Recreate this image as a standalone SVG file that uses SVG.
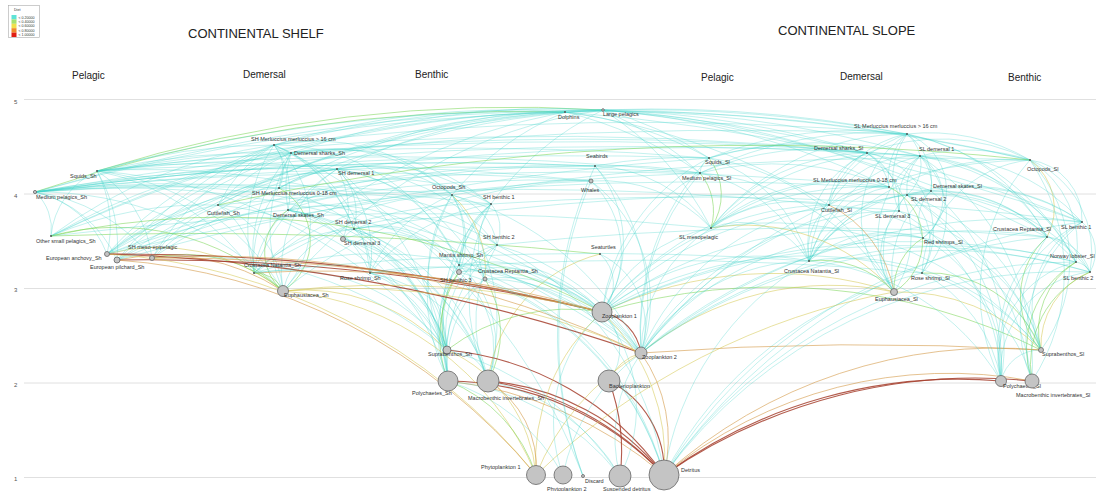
<svg xmlns="http://www.w3.org/2000/svg" width="1096" height="491" viewBox="0 0 1096 491">
<style>
text{font-family:"Liberation Sans",Arial,sans-serif}
.grid{stroke:#d8d8d8;stroke-width:.8}
.ax{font-size:6px;fill:#555}
.h1{font-size:13px;fill:#222}
.h2{font-size:10px;fill:#222}
.t{font-size:5.5px;fill:#333}
.lg{font-size:3.6px;fill:#333}
#edges path{fill:none;stroke-width:.75}
.c{stroke:#3fd3c8;stroke-opacity:.42}
.g{stroke:#7dd65a;stroke-opacity:.75}
.y{stroke:#d6c957;stroke-opacity:.75}
.o{stroke:#d39a48;stroke-opacity:.8}
#edges .r{stroke:#a63f2e;stroke-opacity:.85;stroke-width:1.1}
.d{fill:#555}
.b{fill:#c4c4c4;stroke:#666;stroke-width:.8}
</style>
<rect width="1096" height="491" fill="#fff"/>
<g id="legend">
<rect x="8.5" y="5.5" width="31" height="32" fill="#fff" stroke="#aaa" stroke-width=".6"/>
<text class="lg" x="14" y="11">Diet</text>
<rect x="11.5" y="15" width="5" height="4.4" fill="#5fe3d6"/>
<rect x="11.5" y="19.4" width="5" height="4.4" fill="#a6e26e"/>
<rect x="11.5" y="23.8" width="5" height="4.4" fill="#f1e04b"/>
<rect x="11.5" y="28.2" width="5" height="4.4" fill="#f08a2a"/>
<rect x="11.5" y="32.6" width="5" height="4.4" fill="#e01e12"/>
<text class="lg" x="18.5" y="18.5">&lt; 0.20000</text>
<text class="lg" x="18.5" y="22.9">&lt; 0.40000</text>
<text class="lg" x="18.5" y="27.3">&lt; 0.60000</text>
<text class="lg" x="18.5" y="31.7">&lt; 0.80000</text>
<text class="lg" x="18.5" y="36.1">&lt; 1.00000</text>
</g>
<g id="headers">
<text class="h1" x="188" y="38">CONTINENTAL SHELF</text>
<text class="h1" x="778" y="35">CONTINENTAL SLOPE</text>
<text class="h2" x="72" y="79">Pelagic</text>
<text class="h2" x="243" y="78">Demersal</text>
<text class="h2" x="415" y="78">Benthic</text>
<text class="h2" x="701" y="81">Pelagic</text>
<text class="h2" x="840" y="80">Demersal</text>
<text class="h2" x="1008" y="81">Benthic</text>
</g>
<g id="axis">
<line class="grid" x1="24" y1="99.5" x2="1096" y2="99.5"/>
<line class="grid" x1="24" y1="194" x2="1096" y2="194"/>
<line class="grid" x1="24" y1="288.5" x2="1096" y2="288.5"/>
<line class="grid" x1="24" y1="383" x2="1096" y2="383"/>
<line class="grid" x1="24" y1="477.5" x2="1096" y2="477.5"/>
<text class="ax" x="14" y="104">5</text>
<text class="ax" x="14" y="198">4</text>
<text class="ax" x="14" y="292">3</text>
<text class="ax" x="14" y="387">2</text>
<text class="ax" x="14" y="481">1</text>
</g>
<g id="edges">
<path class="c" d="M35 192 A2000 2000 0 0 1 603 110"/>
<path class="g" d="M35 192 A1500 1500 0 0 1 565 112"/>
<path class="c" d="M35 192 A2200 2200 0 0 1 565 112"/>
<path class="g" d="M97 171 A1400 1400 0 0 1 603 110"/>
<path class="c" d="M97 171 A1600 1600 0 0 1 565 112"/>
<path class="c" d="M51 236 A1200 1200 0 0 1 565 112"/>
<path class="c" d="M51 236 A1300 1300 0 0 1 603 110"/>
<path class="c" d="M107 254 A1100 1100 0 0 1 603 110"/>
<path class="c" d="M117 260 A900 900 0 0 1 565 112"/>
<path class="c" d="M152 258 A900 900 0 0 1 603 110"/>
<path class="c" d="M274 145 A1100 1100 0 0 1 603 110"/>
<path class="c" d="M274 145 A800 800 0 0 1 565 112"/>
<path class="c" d="M291 153 A800 800 0 0 1 603 110"/>
<path class="c" d="M337 169 A600 600 0 0 1 565 112"/>
<path class="c" d="M279 188 A600 600 0 0 1 565 112"/>
<path class="c" d="M218 205 A800 800 0 0 1 603 110"/>
<path class="c" d="M452 195 A300 300 0 0 1 565 112"/>
<path class="c" d="M491 204 A300 300 0 0 1 603 110"/>
<path class="c" d="M283 291 A500 500 0 0 1 603 110"/>
<path class="c" d="M254 273 A600 600 0 0 1 565 112"/>
<path class="c" d="M565 112 A400 400 0 0 1 709 158"/>
<path class="c" d="M603 110 A350 350 0 0 1 709 158"/>
<path class="c" d="M603 110 A350 350 0 0 1 700 173"/>
<path class="c" d="M565 112 A400 400 0 0 1 700 173"/>
<path class="c" d="M603 110 A300 300 0 0 1 711 228"/>
<path class="c" d="M565 112 A1300 1300 0 0 1 907 134"/>
<path class="c" d="M603 110 A1500 1500 0 0 1 907 134"/>
<path class="c" d="M603 110 A1000 1000 0 0 1 867 153"/>
<path class="c" d="M565 112 A1100 1100 0 0 1 920 156"/>
<path class="c" d="M603 110 A2000 2000 0 0 1 1030 160"/>
<path class="c" d="M565 112 A1800 1800 0 0 1 1030 160"/>
<path class="c" d="M603 110 A800 800 0 0 1 889 187"/>
<path class="c" d="M565 112 A700 700 0 0 1 829 205"/>
<path class="c" d="M603 110 A900 900 0 0 1 931 191"/>
<path class="c" d="M603 110 A1600 1600 0 0 1 1082 222"/>
<path class="c" d="M603 110 A1200 1200 0 0 1 1047 237"/>
<path class="c" d="M565 112 A2000 2000 0 0 1 1082 222"/>
<path class="c" d="M97 171 A3000 3000 0 0 1 709 158"/>
<path class="c" d="M97 171 A3000 3000 0 0 1 700 173"/>
<path class="c" d="M97 171 A1000 1000 0 0 1 337 169"/>
<path class="c" d="M97 171 A600 600 0 0 1 274 145"/>
<path class="c" d="M97 171 A800 800 0 0 1 291 153"/>
<path class="c" d="M35 192 A1200 1200 0 0 1 279 188"/>
<path class="c" d="M35 192 A1500 1500 0 0 1 337 169"/>
<path class="c" d="M35 192 A2500 2500 0 0 1 452 195"/>
<path class="c" d="M35 192 A2500 2500 0 0 1 491 204"/>
<path class="c" d="M35 192 A4000 4000 0 0 1 700 173"/>
<path class="c" d="M35 192 A3000 3000 0 0 1 595 166"/>
<path class="c" d="M35 192 A3000 3000 0 0 1 591 181"/>
<path class="c" d="M51 236 A500 500 0 0 1 274 145"/>
<path class="c" d="M51 236 A80 80 0 0 1 97 171"/>
<path class="c" d="M35 192 A50 50 0 0 1 51 236"/>
<path class="c" d="M51 236 A700 700 0 0 1 291 153"/>
<path class="c" d="M51 236 A400 400 0 0 1 218 205"/>
<path class="g" d="M51 236 A4000 4000 0 0 1 600 254"/>
<path class="c" d="M97 171 A120 120 0 0 1 107 254"/>
<path class="c" d="M35 192 A100 100 0 0 1 107 254"/>
<path class="c" d="M107 254 A400 400 0 0 1 274 145"/>
<path class="c" d="M107 254 A500 500 0 0 1 291 153"/>
<path class="c" d="M107 254 A500 500 0 0 1 337 169"/>
<path class="c" d="M107 254 A250 250 0 0 1 218 205"/>
<path class="c" d="M107 254 A1200 1200 0 0 1 595 166"/>
<path class="c" d="M107 254 A1300 1300 0 0 1 591 181"/>
<path class="c" d="M107 254 A300 300 0 0 1 279 188"/>
<path class="c" d="M97 171 A150 150 0 0 1 117 260"/>
<path class="c" d="M35 192 A120 120 0 0 1 117 260"/>
<path class="c" d="M117 260 A400 400 0 0 1 274 145"/>
<path class="c" d="M117 260 A500 500 0 0 1 291 153"/>
<path class="c" d="M117 260 A1200 1200 0 0 1 595 166"/>
<path class="c" d="M117 260 A400 400 0 0 1 288 210"/>
<path class="c" d="M152 258 A300 300 0 0 1 274 145"/>
<path class="c" d="M97 171 A120 120 0 0 1 152 258"/>
<path class="c" d="M152 258 A350 350 0 0 1 337 169"/>
<path class="c" d="M152 258 A150 150 0 0 1 218 205"/>
<path class="c" d="M35 192 A180 180 0 0 1 152 258"/>
<path class="c" d="M218 205 A150 150 0 0 1 274 145"/>
<path class="c" d="M218 205 A300 300 0 0 1 337 169"/>
<path class="c" d="M218 205 A200 200 0 0 1 291 153"/>
<path class="c" d="M274 145 A40 40 0 0 1 279 188"/>
<path class="c" d="M279 188 A100 100 0 0 1 291 153"/>
<path class="c" d="M279 188 A150 150 0 0 1 337 169"/>
<path class="c" d="M288 210 A120 120 0 0 1 291 153"/>
<path class="c" d="M274 145 A80 80 0 0 1 288 210"/>
<path class="c" d="M337 169 A60 60 0 0 1 354 229"/>
<path class="c" d="M274 145 A150 150 0 0 1 354 229"/>
<path class="c" d="M291 153 A150 150 0 0 1 354 229"/>
<path class="c" d="M337 169 A80 80 0 0 1 343 239"/>
<path class="c" d="M343 239 A30 30 0 0 1 354 229"/>
<path class="c" d="M288 210 A100 100 0 0 1 343 239"/>
<path class="c" d="M254 273 A150 150 0 0 1 274 145"/>
<path class="c" d="M254 273 A120 120 0 0 1 279 188"/>
<path class="c" d="M254 273 A100 100 0 0 1 288 210"/>
<path class="c" d="M254 273 A200 200 0 0 1 337 169"/>
<path class="c" d="M254 273 A150 150 0 0 1 354 229"/>
<path class="c" d="M218 205 A80 80 0 0 1 254 273"/>
<path class="c" d="M97 171 A250 250 0 0 1 254 273"/>
<path class="c" d="M254 273 A150 150 0 0 1 291 153"/>
<path class="c" d="M254 273 A300 300 0 0 1 452 195"/>
<path class="c" d="M254 273 A400 400 0 0 1 491 204"/>
<path class="c" d="M337 169 A120 120 0 0 1 370 273"/>
<path class="c" d="M354 229 A50 50 0 0 1 370 273"/>
<path class="c" d="M274 145 A150 150 0 0 1 370 273"/>
<path class="c" d="M370 273 A150 150 0 0 1 452 195"/>
<path class="c" d="M288 210 A100 100 0 0 1 370 273"/>
<path class="c" d="M370 273 A200 200 0 0 1 491 204"/>
<path class="c" d="M97 171 A250 250 0 0 1 283 291"/>
<path class="c" d="M35 192 A350 350 0 0 1 283 291"/>
<path class="y" d="M107 254 A200 200 0 0 1 283 291"/>
<path class="o" d="M117 260 A220 220 0 0 1 283 291"/>
<path class="g" d="M152 258 A150 150 0 0 1 283 291"/>
<path class="g" d="M51 236 A250 250 0 0 1 283 291"/>
<path class="c" d="M218 205 A100 100 0 0 1 283 291"/>
<path class="g" d="M279 188 A60 60 0 0 1 283 291"/>
<path class="g" d="M283 291 A50 50 0 0 1 288 210"/>
<path class="c" d="M274 145 A100 100 0 0 1 283 291"/>
<path class="c" d="M283 291 A80 80 0 0 1 354 229"/>
<path class="c" d="M283 291 A120 120 0 0 1 337 169"/>
<path class="g" d="M254 273 A30 30 0 0 1 283 291"/>
<path class="c" d="M283 291 A500 500 0 0 1 591 181"/>
<path class="c" d="M283 291 A150 150 0 0 1 291 153"/>
<path class="c" d="M274 145 A200 200 0 0 1 452 195"/>
<path class="c" d="M337 169 A150 150 0 0 1 452 195"/>
<path class="c" d="M291 153 A180 180 0 0 1 452 195"/>
<path class="c" d="M291 153 A250 250 0 0 1 491 204"/>
<path class="c" d="M337 169 A200 200 0 0 1 491 204"/>
<path class="c" d="M288 210 A200 200 0 0 1 491 204"/>
<path class="c" d="M452 195 A60 60 0 0 1 497 245"/>
<path class="c" d="M491 204 A40 40 0 0 1 497 245"/>
<path class="c" d="M354 229 A150 150 0 0 1 497 245"/>
<path class="c" d="M337 169 A200 200 0 0 1 497 245"/>
<path class="c" d="M288 210 A200 200 0 0 1 497 245"/>
<path class="c" d="M452 195 A80 80 0 0 1 459 265"/>
<path class="c" d="M354 229 A100 100 0 0 1 459 265"/>
<path class="c" d="M337 169 A150 150 0 0 1 459 265"/>
<path class="c" d="M459 265 A80 80 0 0 1 491 204"/>
<path class="c" d="M274 145 A200 200 0 0 1 459 265"/>
<path class="c" d="M452 195 A80 80 0 0 1 459 272"/>
<path class="c" d="M459 272 A100 100 0 0 1 491 204"/>
<path class="c" d="M459 272 A60 60 0 0 1 497 245"/>
<path class="c" d="M343 239 A100 100 0 0 1 459 272"/>
<path class="c" d="M354 229 A100 100 0 0 1 459 272"/>
<path class="y" d="M452 195 A100 100 0 0 1 485 279"/>
<path class="c" d="M485 279 A80 80 0 0 1 491 204"/>
<path class="c" d="M337 169 A200 200 0 0 1 485 279"/>
<path class="c" d="M288 210 A200 200 0 0 1 485 279"/>
<path class="g" d="M447 350 A80 80 0 0 1 459 272"/>
<path class="c" d="M447 350 A80 80 0 0 1 459 265"/>
<path class="c" d="M447 350 A150 150 0 0 1 452 195"/>
<path class="c" d="M370 273 A100 100 0 0 1 447 350"/>
<path class="c" d="M254 273 A200 200 0 0 1 447 350"/>
<path class="c" d="M343 239 A120 120 0 0 1 447 350"/>
<path class="c" d="M354 229 A130 130 0 0 1 447 350"/>
<path class="c" d="M288 210 A200 200 0 0 1 447 350"/>
<path class="c" d="M279 188 A250 250 0 0 1 447 350"/>
<path class="c" d="M218 205 A300 300 0 0 1 447 350"/>
<path class="y" d="M283 291 A200 200 0 0 1 447 350"/>
<path class="c" d="M152 258 A400 400 0 0 1 447 350"/>
<path class="c" d="M447 350 A100 100 0 0 1 497 245"/>
<path class="c" d="M447 350 A80 80 0 0 1 485 279"/>
<path class="c" d="M447 350 A150 150 0 0 1 491 204"/>
<path class="c" d="M97 171 A500 500 0 0 1 447 350"/>
<path class="g" d="M448 381 A120 120 0 0 1 459 272"/>
<path class="c" d="M448 381 A150 150 0 0 1 497 245"/>
<path class="c" d="M448 381 A200 200 0 0 1 491 204"/>
<path class="c" d="M448 381 A120 120 0 0 1 485 279"/>
<path class="c" d="M448 381 A120 120 0 0 1 459 265"/>
<path class="c" d="M448 381 A200 200 0 0 1 452 195"/>
<path class="c" d="M343 239 A150 150 0 0 1 448 381"/>
<path class="c" d="M354 229 A200 200 0 0 1 448 381"/>
<path class="c" d="M288 210 A250 250 0 0 1 448 381"/>
<path class="c" d="M370 273 A120 120 0 0 1 448 381"/>
<path class="c" d="M337 169 A300 300 0 0 1 448 381"/>
<path class="g" d="M485 279 A100 100 0 0 1 488 381"/>
<path class="c" d="M488 381 A150 150 0 0 1 497 245"/>
<path class="c" d="M488 381 A200 200 0 0 1 491 204"/>
<path class="c" d="M459 272 A100 100 0 0 1 488 381"/>
<path class="c" d="M459 265 A100 100 0 0 1 488 381"/>
<path class="c" d="M452 195 A200 200 0 0 1 488 381"/>
<path class="c" d="M354 229 A200 200 0 0 1 488 381"/>
<path class="c" d="M343 239 A200 200 0 0 1 488 381"/>
<path class="c" d="M370 273 A150 150 0 0 1 488 381"/>
<path class="c" d="M288 210 A250 250 0 0 1 488 381"/>
<path class="c" d="M447 350 A40 40 0 0 1 488 381"/>
<path class="y" d="M488 381 A150 150 0 0 1 600 254"/>
<path class="r" d="M107 254 A2000 2000 0 0 1 602 312"/>
<path class="r" d="M117 260 A2000 2000 0 0 1 602 312"/>
<path class="o" d="M152 258 A1800 1800 0 0 1 602 312"/>
<path class="r" d="M107 254 A1800 1800 0 0 1 641 353"/>
<path class="o" d="M254 273 A1000 1000 0 0 1 602 312"/>
<path class="y" d="M283 291 A900 900 0 0 1 602 312"/>
<path class="c" d="M600 254 A40 40 0 0 1 602 312"/>
<path class="c" d="M35 192 A900 900 0 0 1 602 312"/>
<path class="c" d="M97 171 A800 800 0 0 1 602 312"/>
<path class="g" d="M51 236 A800 800 0 0 1 602 312"/>
<path class="c" d="M591 181 A100 100 0 0 1 602 312"/>
<path class="c" d="M595 166 A120 120 0 0 1 602 312"/>
<path class="g" d="M447 350 A200 200 0 0 1 602 312"/>
<path class="c" d="M485 279 A150 150 0 0 1 602 312"/>
<path class="c" d="M459 265 A150 150 0 0 1 602 312"/>
<path class="c" d="M459 272 A150 150 0 0 1 602 312"/>
<path class="c" d="M602 312 A150 150 0 0 1 711 228"/>
<path class="c" d="M602 312 A200 200 0 0 1 709 158"/>
<path class="c" d="M602 312 A200 200 0 0 1 700 173"/>
<path class="c" d="M602 312 A250 250 0 0 1 809 261"/>
<path class="y" d="M602 312 A400 400 0 0 1 894 292"/>
<path class="c" d="M602 312 A300 300 0 0 1 829 205"/>
<path class="c" d="M602 312 A350 350 0 0 1 899 211"/>
<path class="c" d="M602 312 A350 350 0 0 1 889 187"/>
<path class="c" d="M602 312 A400 400 0 0 1 922 273"/>
<path class="c" d="M602 312 A400 400 0 0 1 923 238"/>
<path class="g" d="M602 312 A600 600 0 0 1 1041 350"/>
<path class="c" d="M602 312 A700 700 0 0 1 1090 272"/>
<path class="c" d="M602 312 A700 700 0 0 1 1076 262"/>
<path class="r" d="M602 312 A50 50 0 0 1 641 353"/>
<path class="y" d="M283 291 A700 700 0 0 1 641 353"/>
<path class="o" d="M152 258 A1000 1000 0 0 1 641 353"/>
<path class="o" d="M641 353 A3000 3000 0 0 1 1041 350"/>
<path class="c" d="M641 353 A150 150 0 0 1 711 228"/>
<path class="c" d="M641 353 A250 250 0 0 1 709 158"/>
<path class="c" d="M641 353 A250 250 0 0 1 700 173"/>
<path class="c" d="M641 353 A200 200 0 0 1 809 261"/>
<path class="y" d="M641 353 A300 300 0 0 1 894 292"/>
<path class="c" d="M641 353 A250 250 0 0 1 829 205"/>
<path class="c" d="M641 353 A300 300 0 0 1 923 238"/>
<path class="c" d="M641 353 A300 300 0 0 1 899 211"/>
<path class="c" d="M641 353 A500 500 0 0 1 1047 237"/>
<path class="c" d="M641 353 A600 600 0 0 1 1082 222"/>
<path class="c" d="M641 353 A500 500 0 0 1 1076 262"/>
<path class="c" d="M641 353 A500 500 0 0 1 1090 272"/>
<path class="c" d="M641 353 A500 500 0 0 1 1030 160"/>
<path class="c" d="M641 353 A400 400 0 0 1 907 195"/>
<path class="c" d="M485 279 A200 200 0 0 1 641 353"/>
<path class="c" d="M459 272 A200 200 0 0 1 641 353"/>
<path class="c" d="M459 265 A200 200 0 0 1 641 353"/>
<path class="c" d="M497 245 A250 250 0 0 1 641 353"/>
<path class="c" d="M452 195 A300 300 0 0 1 641 353"/>
<path class="c" d="M254 273 A400 400 0 0 1 641 353"/>
<path class="c" d="M370 273 A300 300 0 0 1 641 353"/>
<path class="c" d="M600 254 A80 80 0 0 1 641 353"/>
<path class="c" d="M591 181 A150 150 0 0 1 641 353"/>
<path class="c" d="M35 192 A900 900 0 0 1 641 353"/>
<path class="c" d="M595 166 A200 200 0 0 1 641 353"/>
<path class="c" d="M602 312 A50 50 0 0 1 609 381"/>
<path class="y" d="M609 381 A50 50 0 0 1 641 353"/>
<path class="r" d="M448 381 A300 300 0 0 1 664 475"/>
<path class="r" d="M488 381 A250 250 0 0 1 664 475"/>
<path class="r" d="M488 381 A300 300 0 0 1 664 475"/>
<path class="o" d="M448 381 A400 400 0 0 1 664 475"/>
<path class="r" d="M664 475 A500 500 0 0 1 1001 381"/>
<path class="r" d="M664 475 A550 550 0 0 1 1032 381"/>
<path class="o" d="M664 475 A450 450 0 0 1 1032 381"/>
<path class="o" d="M664 475 A500 500 0 0 1 1041 350"/>
<path class="r" d="M447 350 A300 300 0 0 1 664 475"/>
<path class="r" d="M609 381 A100 100 0 0 1 664 475"/>
<path class="y" d="M602 312 A200 200 0 0 1 664 475"/>
<path class="o" d="M641 353 A150 150 0 0 1 664 475"/>
<path class="c" d="M459 272 A300 300 0 0 1 664 475"/>
<path class="c" d="M485 279 A300 300 0 0 1 664 475"/>
<path class="c" d="M459 265 A300 300 0 0 1 664 475"/>
<path class="c" d="M497 245 A300 300 0 0 1 664 475"/>
<path class="c" d="M664 475 A500 500 0 0 1 1047 237"/>
<path class="c" d="M664 475 A500 500 0 0 1 1076 262"/>
<path class="c" d="M664 475 A500 500 0 0 1 1090 272"/>
<path class="c" d="M664 475 A600 600 0 0 1 1082 222"/>
<path class="c" d="M664 475 A400 400 0 0 1 922 273"/>
<path class="c" d="M664 475 A300 300 0 0 1 809 261"/>
<path class="c" d="M602 312 A150 150 0 0 1 620 476"/>
<path class="c" d="M620 476 A150 150 0 0 1 641 353"/>
<path class="c" d="M448 381 A250 250 0 0 1 620 476"/>
<path class="c" d="M488 381 A200 200 0 0 1 620 476"/>
<path class="r" d="M609 381 A200 200 0 0 1 620 476"/>
<path class="c" d="M447 350 A300 300 0 0 1 620 476"/>
<path class="y" d="M536 475 A200 200 0 0 1 602 312"/>
<path class="y" d="M536 475 A250 250 0 0 1 641 353"/>
<path class="y" d="M283 291 A300 300 0 0 1 536 475"/>
<path class="y" d="M447 350 A150 150 0 0 1 536 475"/>
<path class="g" d="M448 381 A150 150 0 0 1 536 475"/>
<path class="o" d="M488 381 A100 100 0 0 1 536 475"/>
<path class="y" d="M536 475 A700 700 0 0 1 894 292"/>
<path class="y" d="M107 254 A600 600 0 0 1 536 475"/>
<path class="o" d="M117 260 A600 600 0 0 1 536 475"/>
<path class="c" d="M563 475 A150 150 0 0 1 602 312"/>
<path class="c" d="M563 475 A200 200 0 0 1 641 353"/>
<path class="c" d="M448 381 A200 200 0 0 1 563 475"/>
<path class="c" d="M583 476 A400 400 0 0 1 595 166"/>
<path class="c" d="M274 145 A600 600 0 0 1 583 476"/>
<path class="c" d="M583 476 A400 400 0 0 1 591 181"/>
<path class="c" d="M709 158 A400 400 0 0 1 907 134"/>
<path class="c" d="M709 158 A300 300 0 0 1 867 153"/>
<path class="c" d="M709 158 A400 400 0 0 1 920 156"/>
<path class="c" d="M700 173 A400 400 0 0 1 907 134"/>
<path class="c" d="M700 173 A300 300 0 0 1 867 153"/>
<path class="c" d="M700 173 A300 300 0 0 1 889 187"/>
<path class="c" d="M700 173 A20 20 0 0 1 709 158"/>
<path class="g" d="M709 158 A60 60 0 0 1 711 228"/>
<path class="g" d="M700 173 A60 60 0 0 1 711 228"/>
<path class="c" d="M711 228 A250 250 0 0 1 907 134"/>
<path class="c" d="M711 228 A200 200 0 0 1 867 153"/>
<path class="c" d="M711 228 A200 200 0 0 1 889 187"/>
<path class="c" d="M711 228 A150 150 0 0 1 829 205"/>
<path class="c" d="M711 228 A250 250 0 0 1 920 156"/>
<path class="c" d="M595 166 A150 150 0 0 1 711 228"/>
<path class="c" d="M591 181 A150 150 0 0 1 711 228"/>
<path class="c" d="M711 228 A250 250 0 0 1 931 191"/>
<path class="c" d="M595 166 A500 500 0 0 1 709 158"/>
<path class="c" d="M595 166 A500 500 0 0 1 700 173"/>
<path class="c" d="M829 205 A100 100 0 0 1 907 134"/>
<path class="c" d="M829 205 A60 60 0 0 1 867 153"/>
<path class="c" d="M829 205 A100 100 0 0 1 920 156"/>
<path class="c" d="M829 205 A80 80 0 0 1 889 187"/>
<path class="c" d="M889 187 A60 60 0 0 1 907 134"/>
<path class="c" d="M867 153 A50 50 0 0 1 889 187"/>
<path class="c" d="M899 211 A60 60 0 0 1 920 156"/>
<path class="c" d="M899 211 A80 80 0 0 1 907 134"/>
<path class="c" d="M899 211 A20 20 0 0 1 907 195"/>
<path class="c" d="M867 153 A60 60 0 0 1 899 211"/>
<path class="c" d="M907 195 A50 50 0 0 1 920 156"/>
<path class="c" d="M907 134 A40 40 0 0 1 907 195"/>
<path class="c" d="M907 134 A60 60 0 0 1 931 191"/>
<path class="c" d="M920 156 A40 40 0 0 1 931 191"/>
<path class="c" d="M709 158 A150 150 0 0 1 809 261"/>
<path class="c" d="M700 173 A150 150 0 0 1 809 261"/>
<path class="c" d="M711 228 A80 80 0 0 1 809 261"/>
<path class="c" d="M809 261 A60 60 0 0 1 829 205"/>
<path class="c" d="M809 261 A150 150 0 0 1 907 134"/>
<path class="c" d="M809 261 A100 100 0 0 1 867 153"/>
<path class="c" d="M809 261 A100 100 0 0 1 889 187"/>
<path class="c" d="M809 261 A150 150 0 0 1 920 156"/>
<path class="c" d="M809 261 A100 100 0 0 1 899 211"/>
<path class="c" d="M809 261 A120 120 0 0 1 907 195"/>
<path class="c" d="M809 261 A150 150 0 0 1 931 191"/>
<path class="c" d="M809 261 A250 250 0 0 1 1030 160"/>
<path class="c" d="M809 261 A120 120 0 0 1 923 238"/>
<path class="c" d="M709 158 A250 250 0 0 1 894 292"/>
<path class="c" d="M700 173 A250 250 0 0 1 894 292"/>
<path class="y" d="M711 228 A200 200 0 0 1 894 292"/>
<path class="o" d="M829 205 A120 120 0 0 1 894 292"/>
<path class="g" d="M809 261 A100 100 0 0 1 894 292"/>
<path class="g" d="M889 187 A60 60 0 0 1 894 292"/>
<path class="c" d="M894 292 A60 60 0 0 1 899 211"/>
<path class="c" d="M894 292 A100 100 0 0 1 907 134"/>
<path class="c" d="M867 153 A100 100 0 0 1 894 292"/>
<path class="c" d="M894 292 A100 100 0 0 1 920 156"/>
<path class="c" d="M894 292 A80 80 0 0 1 907 195"/>
<path class="c" d="M894 292 A100 100 0 0 1 931 191"/>
<path class="g" d="M894 292 A60 60 0 0 1 923 238"/>
<path class="c" d="M920 156 A50 50 0 0 1 923 238"/>
<path class="c" d="M907 134 A60 60 0 0 1 923 238"/>
<path class="c" d="M923 238 A40 40 0 0 1 931 191"/>
<path class="c" d="M907 195 A60 60 0 0 1 922 273"/>
<path class="c" d="M920 156 A80 80 0 0 1 922 273"/>
<path class="c" d="M867 153 A80 80 0 0 1 922 273"/>
<path class="c" d="M922 273 A120 120 0 0 1 1030 160"/>
<path class="c" d="M907 134 A200 200 0 0 1 1030 160"/>
<path class="c" d="M920 156 A200 200 0 0 1 1030 160"/>
<path class="c" d="M867 153 A200 200 0 0 1 1030 160"/>
<path class="y" d="M1030 160 A60 60 0 0 1 1047 237"/>
<path class="c" d="M920 156 A150 150 0 0 1 1047 237"/>
<path class="c" d="M907 134 A200 200 0 0 1 1047 237"/>
<path class="c" d="M931 191 A150 150 0 0 1 1047 237"/>
<path class="c" d="M907 195 A150 150 0 0 1 1047 237"/>
<path class="c" d="M1030 160 A60 60 0 0 1 1082 222"/>
<path class="c" d="M920 156 A200 200 0 0 1 1082 222"/>
<path class="c" d="M931 191 A200 200 0 0 1 1082 222"/>
<path class="c" d="M907 195 A200 200 0 0 1 1082 222"/>
<path class="c" d="M1030 160 A100 100 0 0 1 1076 262"/>
<path class="c" d="M920 156 A200 200 0 0 1 1076 262"/>
<path class="c" d="M907 134 A250 250 0 0 1 1076 262"/>
<path class="c" d="M907 195 A200 200 0 0 1 1076 262"/>
<path class="c" d="M1047 237 A40 40 0 0 1 1076 262"/>
<path class="c" d="M1030 160 A100 100 0 0 1 1090 272"/>
<path class="c" d="M1082 222 A40 40 0 0 1 1090 272"/>
<path class="c" d="M1076 262 A20 20 0 0 1 1090 272"/>
<path class="c" d="M1047 237 A50 50 0 0 1 1090 272"/>
<path class="c" d="M920 156 A250 250 0 0 1 1090 272"/>
<path class="c" d="M907 195 A200 200 0 0 1 1090 272"/>
<path class="y" d="M894 292 A200 200 0 0 1 1041 350"/>
<path class="g" d="M922 273 A120 120 0 0 1 1041 350"/>
<path class="c" d="M923 238 A150 150 0 0 1 1041 350"/>
<path class="g" d="M1041 350 A80 80 0 0 1 1047 237"/>
<path class="g" d="M1041 350 A80 80 0 0 1 1076 262"/>
<path class="y" d="M1041 350 A80 80 0 0 1 1090 272"/>
<path class="c" d="M1041 350 A100 100 0 0 1 1082 222"/>
<path class="c" d="M1030 160 A150 150 0 0 1 1041 350"/>
<path class="c" d="M907 195 A200 200 0 0 1 1041 350"/>
<path class="c" d="M899 211 A200 200 0 0 1 1041 350"/>
<path class="c" d="M809 261 A250 250 0 0 1 1041 350"/>
<path class="c" d="M711 228 A350 350 0 0 1 1041 350"/>
<path class="c" d="M829 205 A250 250 0 0 1 1041 350"/>
<path class="c" d="M922 273 A150 150 0 0 1 1001 381"/>
<path class="c" d="M923 238 A150 150 0 0 1 1001 381"/>
<path class="c" d="M1001 381 A150 150 0 0 1 1047 237"/>
<path class="c" d="M1001 381 A100 100 0 0 1 1076 262"/>
<path class="c" d="M1001 381 A100 100 0 0 1 1090 272"/>
<path class="c" d="M1001 381 A150 150 0 0 1 1082 222"/>
<path class="c" d="M1001 381 A200 200 0 0 1 1030 160"/>
<path class="c" d="M907 195 A200 200 0 0 1 1001 381"/>
<path class="c" d="M899 211 A200 200 0 0 1 1001 381"/>
<path class="c" d="M1001 381 A40 40 0 0 1 1041 350"/>
<path class="c" d="M931 191 A200 200 0 0 1 1001 381"/>
<path class="c" d="M809 261 A250 250 0 0 1 1001 381"/>
<path class="c" d="M1032 381 A150 150 0 0 1 1047 237"/>
<path class="g" d="M1032 381 A100 100 0 0 1 1076 262"/>
<path class="g" d="M1032 381 A100 100 0 0 1 1090 272"/>
<path class="c" d="M1032 381 A150 150 0 0 1 1082 222"/>
<path class="c" d="M1030 160 A200 200 0 0 1 1032 381"/>
<path class="c" d="M922 273 A150 150 0 0 1 1032 381"/>
<path class="c" d="M920 156 A250 250 0 0 1 1032 381"/>
<path class="c" d="M907 195 A250 250 0 0 1 1032 381"/>
<path class="c" d="M35 192 A4000 4000 0 0 1 907 134"/>
<path class="c" d="M35 192 A4000 4000 0 0 1 867 153"/>
<path class="c" d="M97 171 A4000 4000 0 0 1 920 156"/>
<path class="c" d="M274 145 A3000 3000 0 0 1 907 134"/>
<path class="c" d="M291 153 A3000 3000 0 0 1 867 153"/>
<path class="c" d="M337 169 A3000 3000 0 0 1 920 156"/>
<path class="c" d="M279 188 A3000 3000 0 0 1 889 187"/>
<path class="c" d="M218 205 A3000 3000 0 0 1 829 205"/>
<path class="c" d="M288 210 A3000 3000 0 0 1 931 191"/>
<path class="c" d="M452 195 A3000 3000 0 0 1 1030 160"/>
<path class="c" d="M491 204 A3000 3000 0 0 1 1082 222"/>
<path class="c" d="M354 229 A3000 3000 0 0 1 907 195"/>
<path class="c" d="M254 273 A3000 3000 0 0 1 809 261"/>
<path class="c" d="M370 273 A3000 3000 0 0 1 922 273"/>
<path class="c" d="M497 245 A3000 3000 0 0 1 1047 237"/>
<path class="c" d="M35 192 A4000 4000 0 0 1 709 158"/>
<path class="c" d="M97 171 A3000 3000 0 0 1 867 153"/>
<path class="c" d="M107 254 A3000 3000 0 0 1 700 173"/>
<path class="c" d="M117 260 A3000 3000 0 0 1 709 158"/>
<path class="c" d="M51 236 A3000 3000 0 0 1 711 228"/>
<path class="g" d="M218 205 A2500 2500 0 0 1 1030 160"/>
<path class="c" d="M35 192 A3000 3000 0 0 1 595 166"/>
<path class="c" d="M97 171 A3000 3000 0 0 1 591 181"/>
</g>
<g id="nodes">
<g id="n-medium-pelagics-sh"><circle class="b" cx="35" cy="192" r="1.6"/><text class="t" x="36" y="199">Medium pelagics_Sh</text></g>
<g id="n-squids-sh"><circle class="d" cx="97" cy="171" r="1"/><text class="t" x="70" y="178">Squids_Sh</text></g>
<g id="n-other-small-pelagics-sh"><circle class="d" cx="51" cy="236" r="1"/><text class="t" x="36" y="243">Other small pelagics_Sh</text></g>
<g id="n-european-anchovy-sh"><circle class="b" cx="107" cy="254" r="2.5"/><text class="t" x="46" y="260">European anchovy_Sh</text></g>
<g id="n-european-pilchard-sh"><circle class="b" cx="117" cy="260" r="3"/><text class="t" x="90" y="269">European pilchard_Sh</text></g>
<g id="n-sh-meso-epipelagic"><circle class="b" cx="152" cy="258" r="2.5"/><text class="t" x="128" y="249">SH meso-epipelagic</text></g>
<g id="n-cuttlefish-sh"><circle class="d" cx="218" cy="205" r="1"/><text class="t" x="207" y="215">Cuttlefish_Sh</text></g>
<g id="n-crustacea-natantia-sh"><circle class="d" cx="254" cy="273" r="1"/><text class="t" x="244" y="267">Crustacea Natantia_Sh</text></g>
<g id="n-sh-merluccius-16"><circle class="d" cx="274" cy="145" r="1"/><text class="t" x="251" y="141">SH Merluccius merluccius &gt; 16 cm</text></g>
<g id="n-demersal-sharks-sh"><circle class="d" cx="291" cy="153" r="1"/><text class="t" x="294" y="155">Demersal sharks_Sh</text></g>
<g id="n-sh-demersal-1"><circle class="d" cx="337" cy="169" r="1"/><text class="t" x="338" y="175">SH demersal 1</text></g>
<g id="n-sh-merluccius-0-18"><circle class="d" cx="279" cy="188" r="1"/><text class="t" x="252" y="195">SH Merluccius merluccius 0-18 cm</text></g>
<g id="n-demersal-skates-sh"><circle class="d" cx="288" cy="210" r="1"/><text class="t" x="273" y="217">Demersal skates_Sh</text></g>
<g id="n-sh-demersal-2"><circle class="d" cx="354" cy="229" r="1"/><text class="t" x="335" y="224">SH demersal 2</text></g>
<g id="n-sh-demersal-3"><circle class="b" cx="343" cy="239" r="2.5"/><text class="t" x="344" y="245">SH demersal 3</text></g>
<g id="n-rose-shrimp-sh"><circle class="d" cx="370" cy="273" r="1"/><text class="t" x="340" y="280">Rose shrimp_Sh</text></g>
<g id="n-octopods-sh"><circle class="d" cx="452" cy="195" r="1"/><text class="t" x="432" y="189">Octopods_Sh</text></g>
<g id="n-sh-benthic-1"><circle class="d" cx="491" cy="204" r="1"/><text class="t" x="483" y="199">SH benthic 1</text></g>
<g id="n-sh-benthic-2"><circle class="d" cx="497" cy="245" r="1"/><text class="t" x="483" y="239">SH benthic 2</text></g>
<g id="n-mantis-shrimp-sh"><circle class="d" cx="459" cy="265" r="1"/><text class="t" x="439" y="257">Mantis shrimp_Sh</text></g>
<g id="n-sh-benthic-3"><circle class="b" cx="459" cy="272" r="2.5"/><text class="t" x="440" y="282">SH benthic 3</text></g>
<g id="n-crustacea-reptantia-sh"><circle class="b" cx="485" cy="279" r="2"/><text class="t" x="478" y="273">Crustacea Reptantia_Sh</text></g>
<g id="n-euphausiacea-sh"><circle class="b" cx="283" cy="291" r="5.5"/><text class="t" x="284" y="297">Euphausiacea_Sh</text></g>
<g id="n-dolphins"><circle class="d" cx="565" cy="112" r="1"/><text class="t" x="558" y="119">Dolphins</text></g>
<g id="n-large-pelagics"><circle class="b" cx="603" cy="110" r="1.3"/><text class="t" x="603" y="116">Large pelagics</text></g>
<g id="n-seabirds"><circle class="d" cx="595" cy="166" r="1"/><text class="t" x="586" y="158">Seabirds</text></g>
<g id="n-whales"><circle class="b" cx="591" cy="181" r="2"/><text class="t" x="581" y="192">Whales</text></g>
<g id="n-seaturtles"><circle class="d" cx="600" cy="254" r="1"/><text class="t" x="591" y="249">Seaturtles</text></g>
<g id="n-squids-sl"><circle class="d" cx="709" cy="158" r="1"/><text class="t" x="705" y="164">Squids_Sl</text></g>
<g id="n-medium-pelagics-sl"><circle class="d" cx="700" cy="173" r="1"/><text class="t" x="682" y="180">Medium pelagics_Sl</text></g>
<g id="n-sl-mesopelagic"><circle class="d" cx="711" cy="228" r="1"/><text class="t" x="679" y="239">SL mesopelagic</text></g>
<g id="n-sl-merluccius-16"><circle class="d" cx="907" cy="134" r="1"/><text class="t" x="854" y="128">SL Merluccius merluccius &gt; 16 cm</text></g>
<g id="n-demersal-sharks-sl"><circle class="d" cx="867" cy="153" r="1"/><text class="t" x="814" y="150">Demersal sharks_Sl</text></g>
<g id="n-sl-merluccius-0-18"><circle class="d" cx="889" cy="187" r="1"/><text class="t" x="813" y="182">SL Merluccius merluccius 0-18 cm</text></g>
<g id="n-cuttlefish-sl"><circle class="d" cx="829" cy="205" r="1"/><text class="t" x="821" y="212">Cuttlefish_Sl</text></g>
<g id="n-sl-demersal-3"><circle class="d" cx="899" cy="211" r="1"/><text class="t" x="875" y="218">SL demersal 3</text></g>
<g id="n-crustacea-natantia-sl"><circle class="d" cx="809" cy="261" r="1"/><text class="t" x="784" y="273">Crustacea Natantia_Sl</text></g>
<g id="n-euphausiacea-sl"><circle class="b" cx="894" cy="292" r="3.5"/><text class="t" x="875" y="301">Euphausiacea_Sl</text></g>
<g id="n-sl-demersal-1"><circle class="d" cx="920" cy="156" r="1"/><text class="t" x="919" y="151">SL demersal 1</text></g>
<g id="n-octopods-sl"><circle class="d" cx="1030" cy="160" r="1"/><text class="t" x="1027" y="171">Octopods_Sl</text></g>
<g id="n-demersal-skates-sl"><circle class="d" cx="931" cy="191" r="1"/><text class="t" x="933" y="188">Demersal skates_Sl</text></g>
<g id="n-sl-demersal-2"><circle class="d" cx="907" cy="195" r="1"/><text class="t" x="911" y="201">SL demersal 2</text></g>
<g id="n-crustacea-reptantia-sl"><circle class="d" cx="1047" cy="237" r="1"/><text class="t" x="993" y="231">Crustacea Reptantia_Sl</text></g>
<g id="n-sl-benthic-1"><circle class="d" cx="1082" cy="222" r="1"/><text class="t" x="1061" y="229">SL benthic 1</text></g>
<g id="n-red-shrimps-sl"><circle class="d" cx="923" cy="238" r="1"/><text class="t" x="924" y="244">Red shrimps_Sl</text></g>
<g id="n-norway-lobster-sl"><circle class="d" cx="1076" cy="262" r="1"/><text class="t" x="1050" y="258">Norway lobster_Sl</text></g>
<g id="n-rose-shrimp-sl"><circle class="d" cx="922" cy="273" r="1"/><text class="t" x="911" y="280">Rose shrimp_Sl</text></g>
<g id="n-sl-benthic-2"><circle class="d" cx="1090" cy="272" r="1"/><text class="t" x="1063" y="280">SL benthic 2</text></g>
<g id="n-suprabenthos-sl"><circle class="b" cx="1041" cy="350" r="2.5"/><text class="t" x="1042" y="356">Suprabenthos_Sl</text></g>
<g id="n-polychaetes-sl"><circle class="b" cx="1001" cy="381" r="5.5"/><text class="t" x="1003" y="388">Polychaetes_Sl</text></g>
<g id="n-macrobenthic-sl"><circle class="b" cx="1032" cy="381" r="7"/><text class="t" x="1016" y="397">Macrobenthic invertebrates_Sl</text></g>
<g id="n-zooplankton-1"><circle class="b" cx="602" cy="312" r="10"/><text class="t" x="602" y="318">Zooplankton 1</text></g>
<g id="n-zooplankton-2"><circle class="b" cx="641" cy="353" r="6"/><text class="t" x="642" y="359">Zooplankton 2</text></g>
<g id="n-suprabenthos-sh"><circle class="b" cx="447" cy="350" r="4"/><text class="t" x="428" y="356">Suprabenthos_Sh</text></g>
<g id="n-polychaetes-sh"><circle class="b" cx="448" cy="381" r="10"/><text class="t" x="412" y="395">Polychaetes_Sh</text></g>
<g id="n-macrobenthic-sh"><circle class="b" cx="488" cy="381" r="11"/><text class="t" x="468" y="400">Macrobenthic invertebrates_Sh</text></g>
<g id="n-bacterioplankton"><circle class="b" cx="609" cy="381" r="11"/><text class="t" x="609" y="388">Bacterioplankton</text></g>
<g id="n-phytoplankton-1"><circle class="b" cx="536" cy="475" r="9.5"/><text class="t" x="481" y="469">Phytoplankton 1</text></g>
<g id="n-phytoplankton-2"><circle class="b" cx="563" cy="475" r="9"/><text class="t" x="547" y="491">Phytoplankton 2</text></g>
<g id="n-discard"><circle class="b" cx="583" cy="476" r="1.5"/><text class="t" x="585" y="483">Discard</text></g>
<g id="n-suspended-detritus"><circle class="b" cx="620" cy="476" r="11"/><text class="t" x="603" y="491">Suspended detritus</text></g>
<g id="n-detritus"><circle class="b" cx="664" cy="475" r="15"/><text class="t" x="681" y="472">Detritus</text></g>
</g>
</svg>
